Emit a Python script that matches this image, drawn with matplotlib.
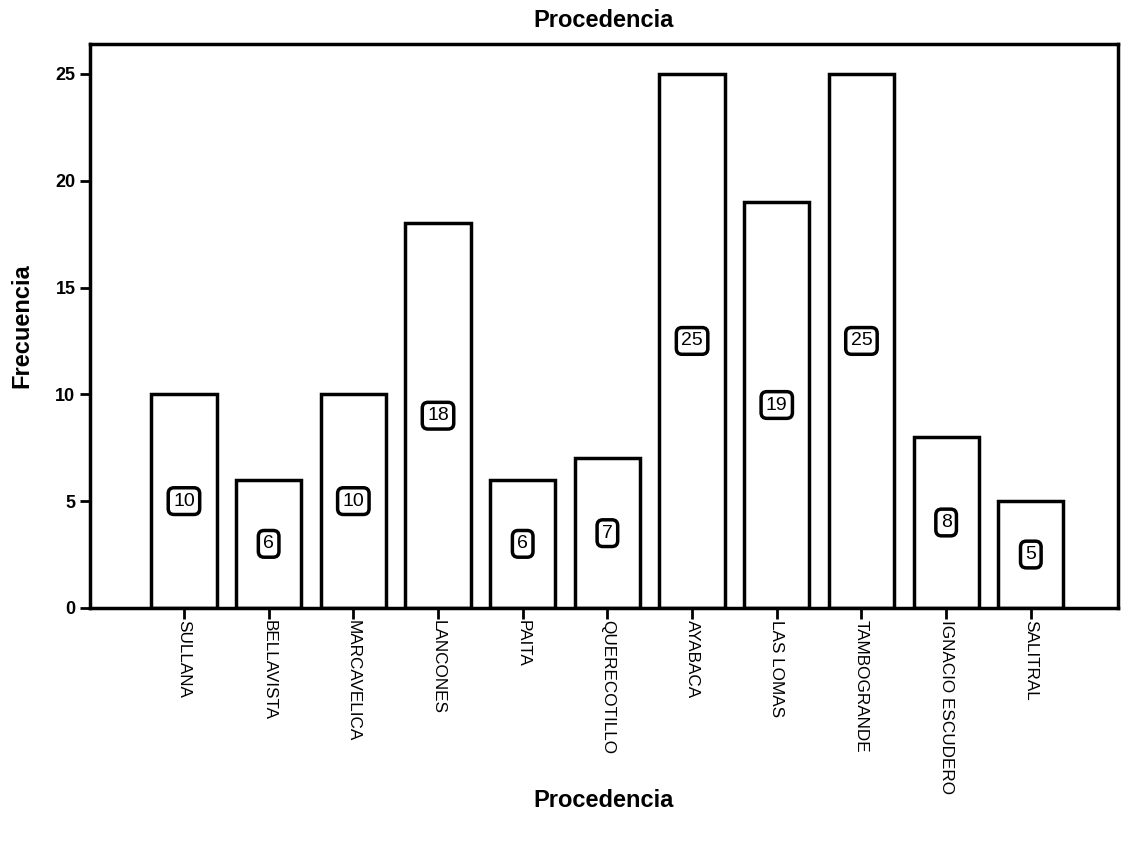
import numpy as np
import matplotlib.pyplot as plt

plt.rcParams['font.family'] = ['Liberation Sans', 'DejaVu Sans']

categorias = ['SULLANA', 'BELLAVISTA', 'MARCAVELICA', 'LANCONES', 'PAITA',
              'QUERECOTILLO', 'AYABACA', 'LAS LOMAS', 'TAMBOGRANDE',
              'IGNACIO ESCUDERO', 'SALITRAL']
frecuencias = [10, 6, 10, 18, 6, 7, 25, 19, 25, 8, 5]

fig = plt.figure(figsize=(11.33, 8.42), dpi=100)
ax = fig.add_axes([0.0794, 0.278, 0.9074, 0.6697])

x = np.arange(len(categorias))
ax.bar(x, frecuencias, width=0.77, color='white', edgecolor='black', linewidth=2.5)

# etiquetas de valor en el centro de cada barra
for xi, v in zip(x, frecuencias):
    ax.text(xi, v / 2, str(v), ha='center', va='center', fontsize=14,
            bbox=dict(boxstyle='round,pad=0.25,rounding_size=0.3',
                      facecolor='white', edgecolor='black', linewidth=2.5))

ax.set_xlim(-1.11, 11.03)
ax.set_ylim(0, 26.4)
ax.set_yticks([0, 5, 10, 15, 20, 25])
ax.set_xticks(x)
ax.set_xticklabels(categorias, rotation=-90, ha='center', va='top', fontsize=12.3)
ax.tick_params(axis='y', labelsize=13, width=2, length=7, direction='out')
ax.tick_params(axis='x', width=2, length=8, direction='out', pad=1)
for lbl in ax.get_yticklabels():
    lbl.set_fontweight('bold')

for s in ax.spines.values():
    s.set_linewidth(2.5)

ax.set_title('Procedencia', fontsize=17, fontweight='bold', pad=12)
ax.set_xlabel('Procedencia', fontsize=17, fontweight='bold')
ax.xaxis.set_label_coords(0.5, -0.322)
ax.set_ylabel('Frecuencia', fontsize=17, fontweight='bold', labelpad=16)

fig.savefig('out.png', dpi=100)
